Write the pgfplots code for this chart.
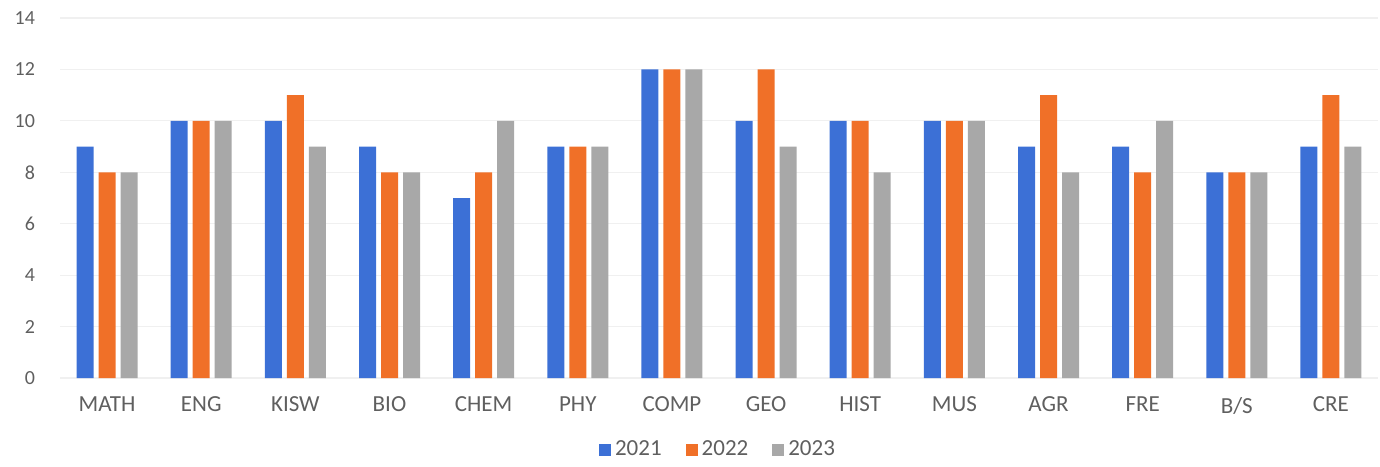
\documentclass[border=0pt]{standalone}
\usepackage{fontspec}
\setmainfont{Carlito}
\usepackage{pgfplots}
\pgfplotsset{compat=1.18}

\definecolor{yrA}{RGB}{60,112,214}
\definecolor{yrB}{RGB}{240,112,40}
\definecolor{yrC}{RGB}{168,168,168}
\definecolor{txt}{RGB}{95,95,95}
\definecolor{gridc}{RGB}{240,240,240}

\begin{document}
\begin{tikzpicture}
\begin{axis}[
  name=ax,
  scale only axis,
  width=659pt, height=180pt,
  ybar=2.5pt, bar width=8.5pt,
  xmin=-0.5, xmax=13.5,
  ymin=0, ymax=14,
  ytick={0,2,...,14},
  xtick=data,
  xticklabels={MATH,ENG,KISW,BIO,CHEM,PHY,COMP,GEO,HIST,MUS,AGR,FRE,B/S,CRE},
  axis line style={draw=none},
  major tick length=0pt,
  ymajorgrids, grid style={gridc, line width=0.6pt},
  /pgf/number format/assume math mode=true,
  yticklabel style={font=\fontsize{10}{12}\selectfont, text=txt, xshift=-9pt},
  xticklabel style={font=\fontsize{11.5}{13}\selectfont, text=txt, yshift=-6pt},
  legend columns=3,
  legend style={at={(0.5,-0.2)}, anchor=center, draw=none, fill=none,
    font=\fontsize{11.5}{13}\selectfont, text=txt,
    /tikz/every even column/.append style={column sep=10pt}},
  legend image code/.code={\fill[#1] (0pt,-3pt) rectangle (6pt,3pt);},
]
\addplot[fill=yrA, draw=none] coordinates {(0,9) (1,10) (2,10) (3,9) (4,7) (5,9) (6,12) (7,10) (8,10) (9,10) (10,9) (11,9) (12,8) (13,9)};
\addplot[fill=yrB, draw=none] coordinates {(0,8) (1,10) (2,11) (3,8) (4,8) (5,9) (6,12) (7,12) (8,10) (9,10) (10,11) (11,8) (12,8) (13,11)};
\addplot[fill=yrC, draw=none] coordinates {(0,8) (1,10) (2,9) (3,8) (4,10) (5,9) (6,12) (7,9) (8,8) (9,10) (10,8) (11,10) (12,8) (13,9)};
\legend{2021,2022,2023}
\end{axis}
\useasboundingbox ([shift={(-30pt,-41.5pt)}]ax.south west) rectangle ([shift={(1pt,9pt)}]ax.north east);
\end{tikzpicture}
\end{document}
